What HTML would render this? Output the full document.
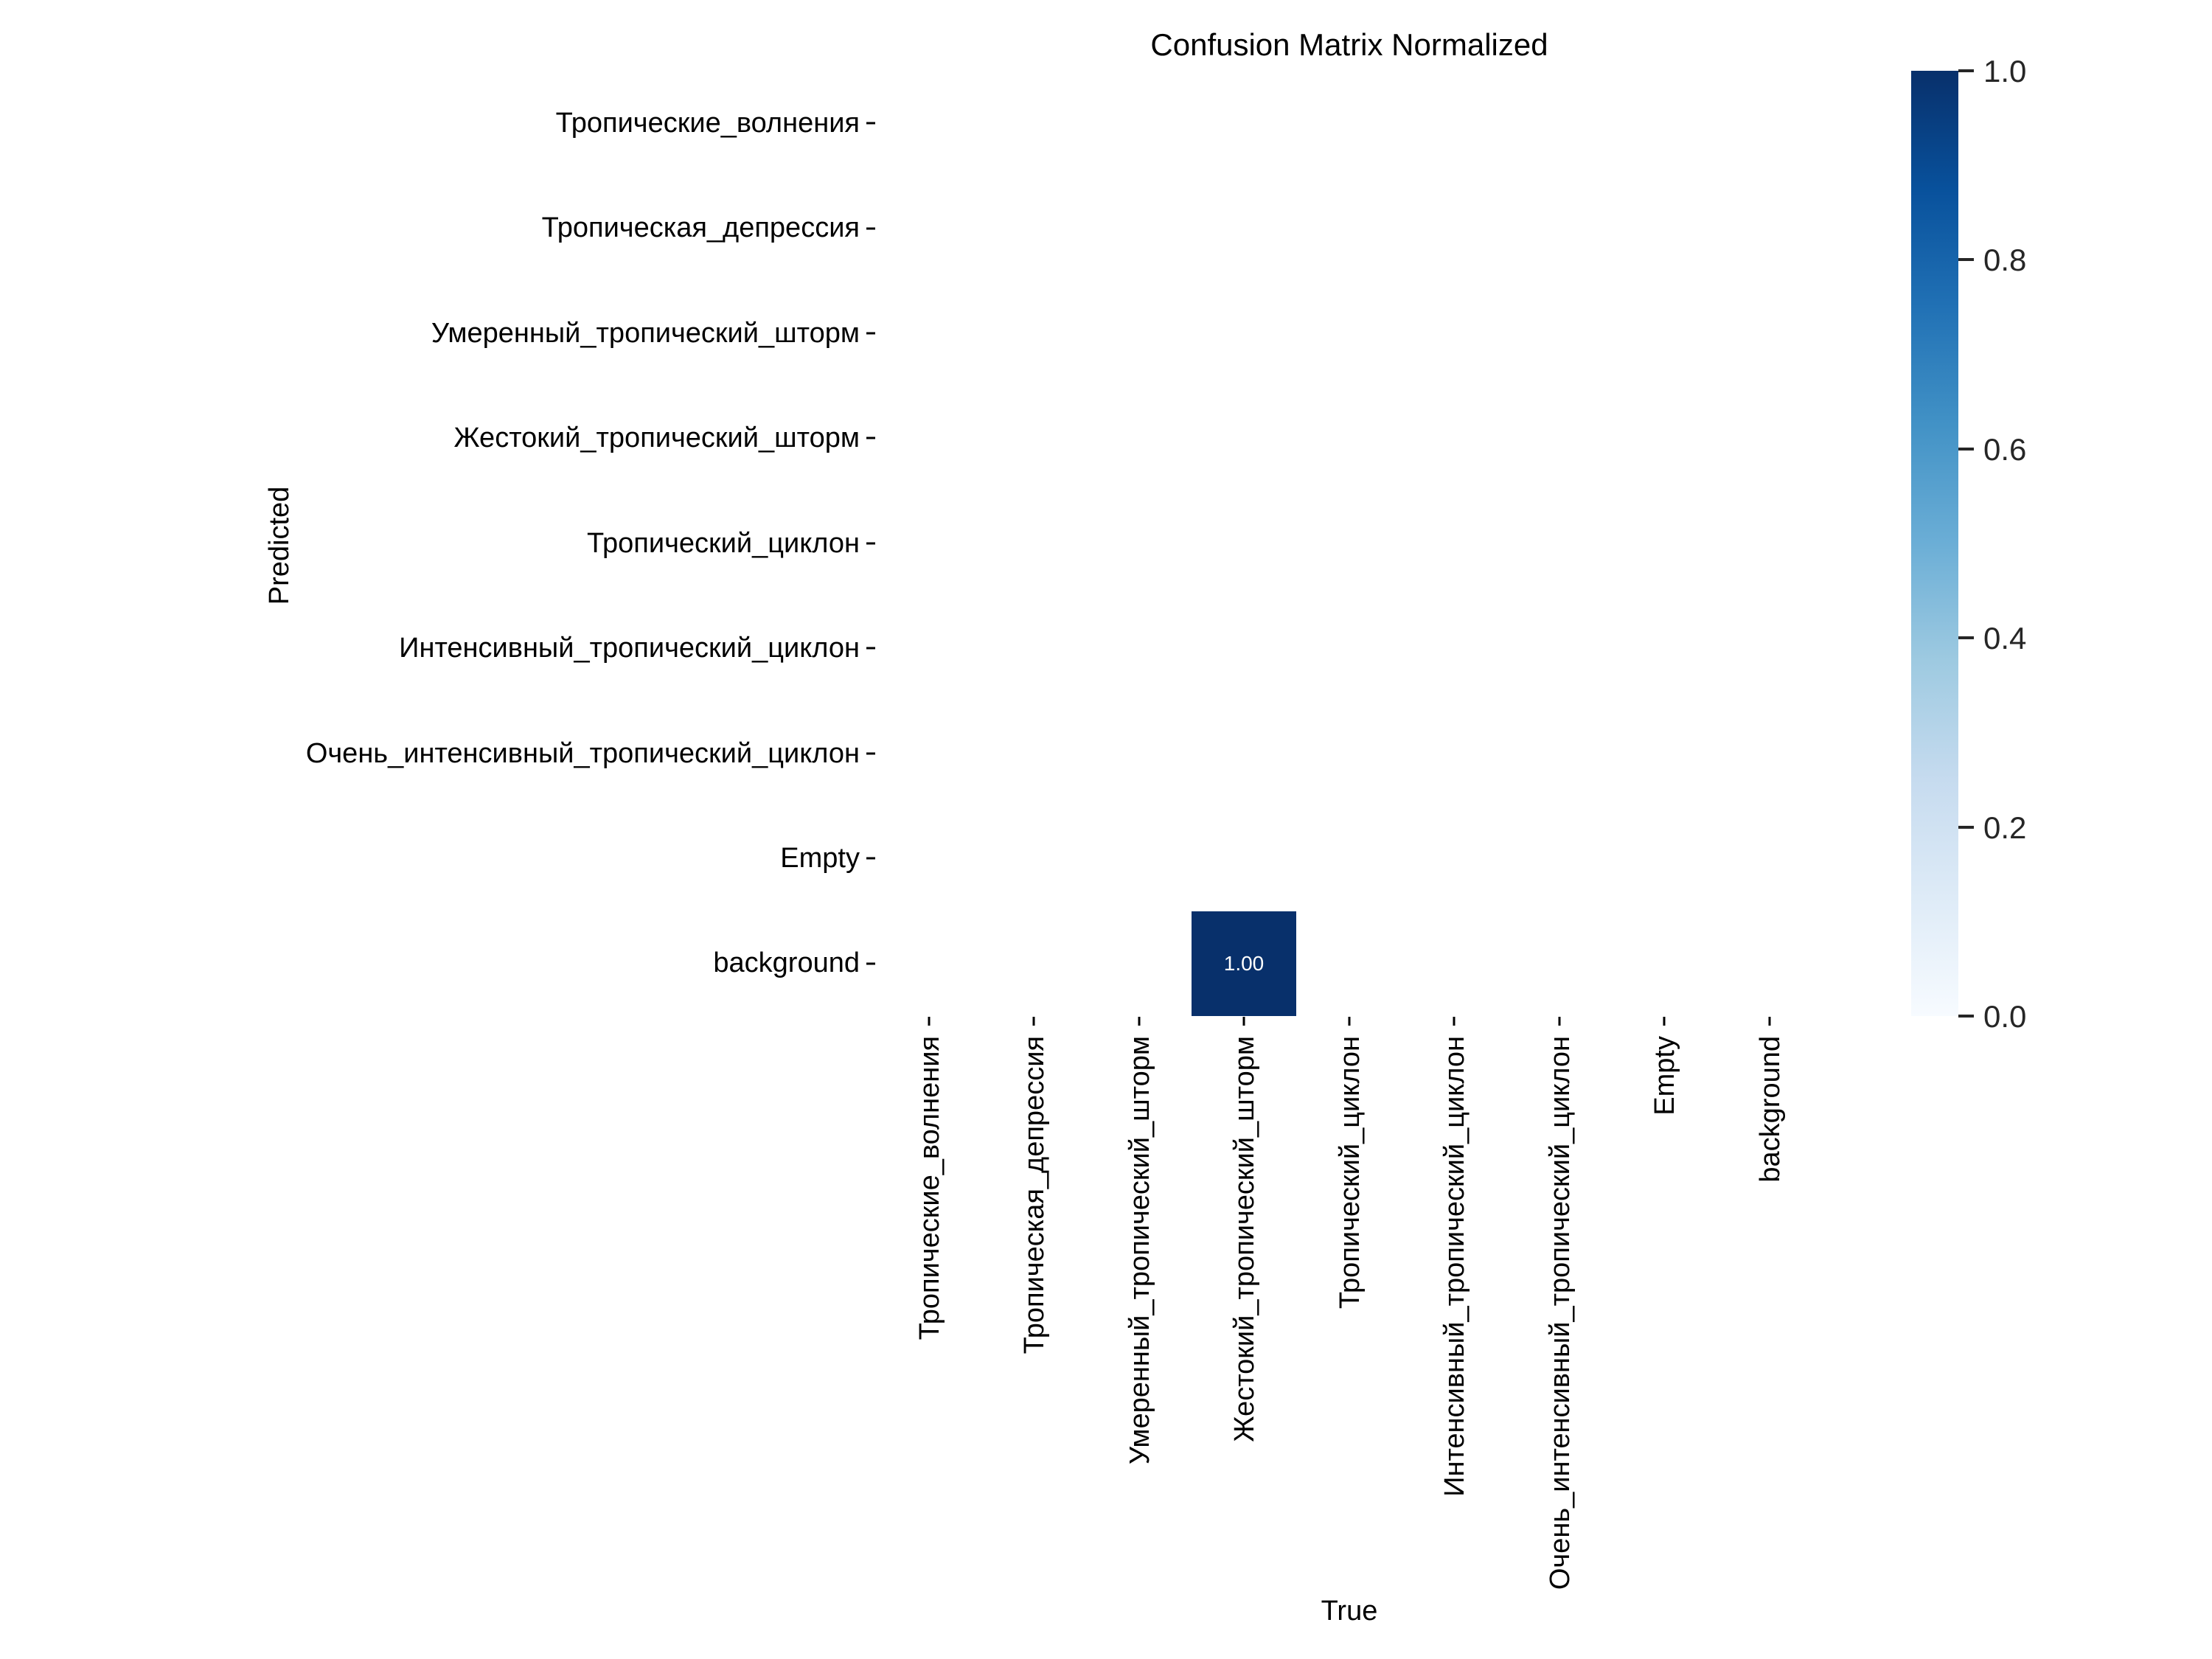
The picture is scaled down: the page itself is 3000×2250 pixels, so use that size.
<!DOCTYPE html>
<html><head><meta charset="utf-8"><style>
html,body{margin:0;padding:0;background:#fff}
svg{display:block}
text{font-family:"Liberation Sans","DejaVu Sans",sans-serif;fill:#000}
</style></head><body>
<svg width="3000" height="2250" viewBox="0 0 3000 2250" xmlns="http://www.w3.org/2000/svg">
<defs>
<linearGradient id="cb" x1="0" y1="1" x2="0" y2="0">
<stop offset="0" stop-color="#f7fbff"/>
<stop offset="0.125" stop-color="#deebf7"/>
<stop offset="0.25" stop-color="#c6dbef"/>
<stop offset="0.375" stop-color="#9ecae1"/>
<stop offset="0.5" stop-color="#6baed6"/>
<stop offset="0.625" stop-color="#4292c6"/>
<stop offset="0.75" stop-color="#2171b5"/>
<stop offset="0.875" stop-color="#08519c"/>
<stop offset="1" stop-color="#08306b"/>
</linearGradient>
</defs>
<text x="1830" y="75" font-size="42" text-anchor="middle">Confusion Matrix Normalized</text>
<rect x="1616" y="1236" width="142" height="142" fill="#08306b"/>
<text x="1687" y="1316" font-size="28" text-anchor="middle" style="fill:#fff">1.00</text>
<g font-size="38" text-anchor="end">
<text x="1166" y="179">Тропические_волнения</text>
<text x="1166" y="321">Тропическая_депрессия</text>
<text x="1166" y="464">Умеренный_тропический_шторм</text>
<text x="1166" y="606">Жестокий_тропический_шторм</text>
<text x="1166" y="749">Тропический_циклон</text>
<text x="1166" y="891">Интенсивный_тропический_циклон</text>
<text x="1166" y="1034">Очень_интенсивный_тропический_циклон</text>
<text x="1166" y="1176">Empty</text>
<text x="1166" y="1318">background</text>
</g>
<g stroke="#000" stroke-width="3">
<line x1="1175" y1="167" x2="1187" y2="167"/>
<line x1="1175" y1="310" x2="1187" y2="310"/>
<line x1="1175" y1="452" x2="1187" y2="452"/>
<line x1="1175" y1="594" x2="1187" y2="594"/>
<line x1="1175" y1="737" x2="1187" y2="737"/>
<line x1="1175" y1="879" x2="1187" y2="879"/>
<line x1="1175" y1="1022" x2="1187" y2="1022"/>
<line x1="1175" y1="1164" x2="1187" y2="1164"/>
<line x1="1175" y1="1307" x2="1187" y2="1307"/>
<line x1="1260" y1="1379" x2="1260" y2="1391"/>
<line x1="1402" y1="1379" x2="1402" y2="1391"/>
<line x1="1545" y1="1379" x2="1545" y2="1391"/>
<line x1="1687" y1="1379" x2="1687" y2="1391"/>
<line x1="1830" y1="1379" x2="1830" y2="1391"/>
<line x1="1972" y1="1379" x2="1972" y2="1391"/>
<line x1="2115" y1="1379" x2="2115" y2="1391"/>
<line x1="2257" y1="1379" x2="2257" y2="1391"/>
<line x1="2400" y1="1379" x2="2400" y2="1391"/>
</g>
<g font-size="38" text-anchor="end">
<text transform="translate(1273,1405) rotate(-90)">Тропические_волнения</text>
<text transform="translate(1415,1405) rotate(-90)">Тропическая_депрессия</text>
<text transform="translate(1558,1405) rotate(-90)">Умеренный_тропический_шторм</text>
<text transform="translate(1700,1405) rotate(-90)">Жестокий_тропический_шторм</text>
<text transform="translate(1843,1405) rotate(-90)">Тропический_циклон</text>
<text transform="translate(1985,1405) rotate(-90)">Интенсивный_тропический_циклон</text>
<text transform="translate(2128,1405) rotate(-90)">Очень_интенсивный_тропический_циклон</text>
<text transform="translate(2270,1405) rotate(-90)">Empty</text>
<text transform="translate(2413,1405) rotate(-90)">background</text>
</g>
<text transform="translate(391,740) rotate(-90)" font-size="38" text-anchor="middle">Predicted</text>
<text x="1830" y="2197" font-size="38" text-anchor="middle">True</text>
<rect x="2592" y="96" width="64" height="1282" fill="url(#cb)"/>
<g stroke="#262626" stroke-width="4">
<line x1="2656" y1="96" x2="2677" y2="96"/>
<line x1="2656" y1="352" x2="2677" y2="352"/>
<line x1="2656" y1="609" x2="2677" y2="609"/>
<line x1="2656" y1="865" x2="2677" y2="865"/>
<line x1="2656" y1="1122" x2="2677" y2="1122"/>
<line x1="2656" y1="1378" x2="2677" y2="1378"/>
</g>
<g font-size="42">
<text x="2690" y="111" style="fill:#262626">1.0</text>
<text x="2690" y="367" style="fill:#262626">0.8</text>
<text x="2690" y="624" style="fill:#262626">0.6</text>
<text x="2690" y="880" style="fill:#262626">0.4</text>
<text x="2690" y="1137" style="fill:#262626">0.2</text>
<text x="2690" y="1393" style="fill:#262626">0.0</text>
</g>
</svg>
</body></html>
